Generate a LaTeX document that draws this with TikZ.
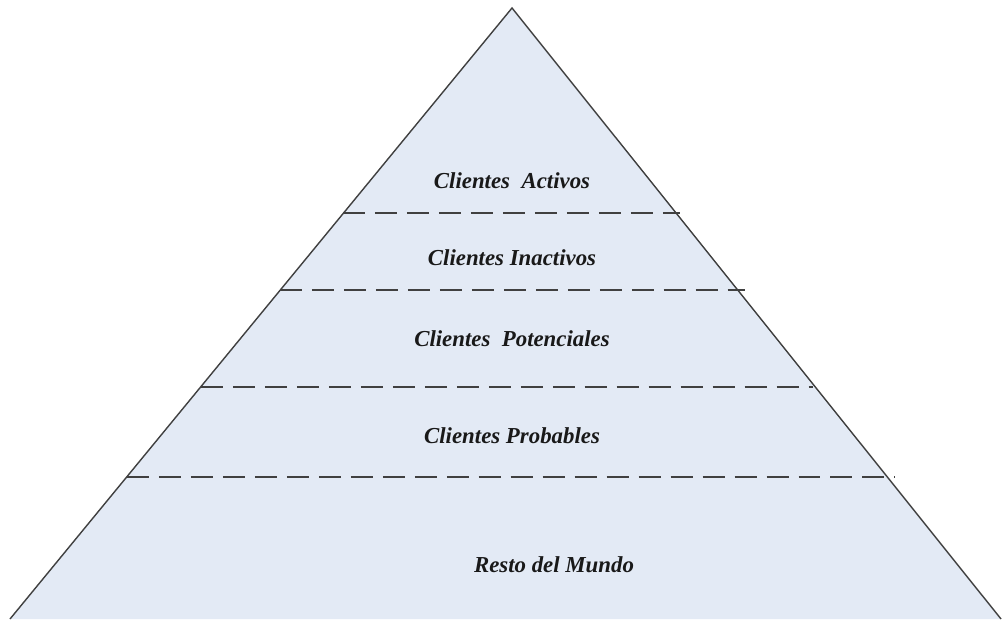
\documentclass[tikz,border=0pt]{standalone}
\usepackage{fontspec}
\setmainfont{Liberation Serif}
\definecolor{pyrfill}{HTML}{E3EAF5}
\definecolor{pyrline}{HTML}{404040}
\begin{document}
\begin{tikzpicture}[
    x=0.02cm, y=-0.02cm,
    every node/.style={font=\fontsize{13}{15}\selectfont\bfseries\itshape},
    level/.style={draw=pyrline, line width=0.8pt, dash pattern=on 12.5pt off 5.7pt},
    lbl/.style={anchor=center, text=black!90}
]
\useasboundingbox (0,0) rectangle (1003,619);

% ----------------------------------------------------------
% Pyramide
% ----------------------------------------------------------
\coordinate (apex) at (512, 8);
\coordinate (bl) at (10, 619);
\coordinate (br) at (1001, 619);
\fill[pyrfill] (apex) -- (bl) -- (br) -- cycle;
\draw[pyrline, line width=0.8pt] (bl) -- (apex) -- (br);

% ----------------------------------------------------------
% Trennlinien (gestrichelt)
% ----------------------------------------------------------
\draw[level] (343, 213) -- (680, 213);
\draw[level] (280, 290) -- (745, 290);
\draw[level] (201, 387) -- (813, 387);
\draw[level] (127, 477) -- (895, 477);

% ----------------------------------------------------------
% Beschriftungen
% ----------------------------------------------------------
\node[lbl] (activos) at (512, 181) {Clientes\ \ Activos};
\node[lbl] (inactivos) at (512, 258) {Clientes Inactivos};
\node[lbl] (potenciales) at (512, 339) {Clientes\ \ Potenciales};
\node[lbl] (probables) at (512, 436) {Clientes Probables};
\node[lbl] (resto) at (554, 565) {Resto del Mundo};

\end{tikzpicture}
\end{document}
